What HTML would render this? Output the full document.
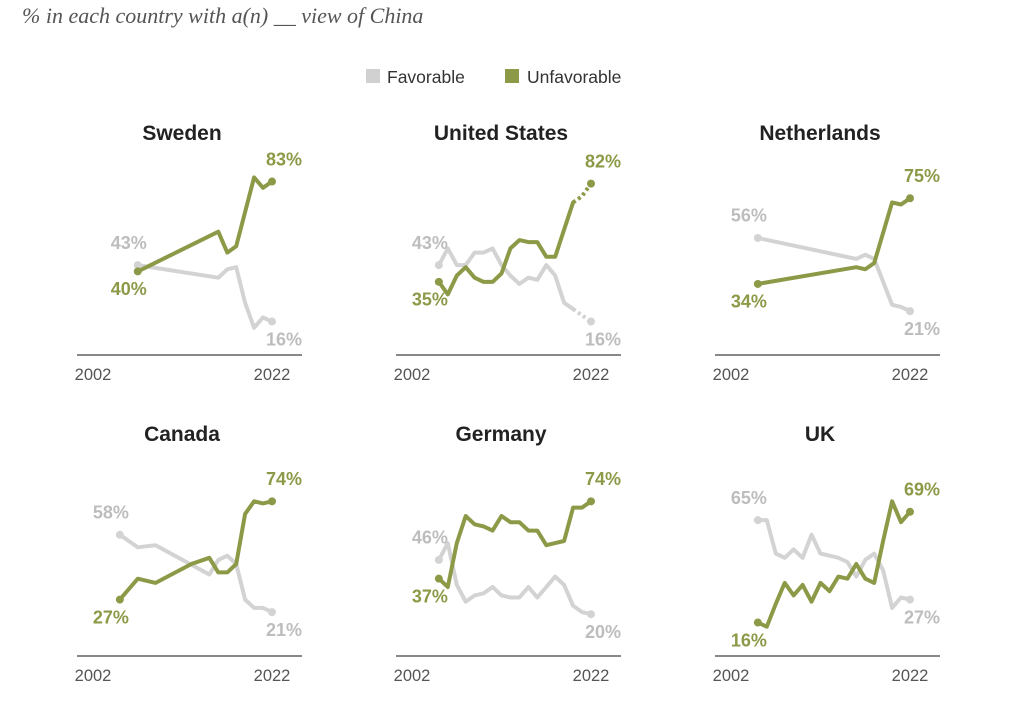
<!DOCTYPE html>
<html><head><meta charset="utf-8">
<style>
body{margin:0;background:#fff;width:1018px;height:711px;overflow:hidden;font-family:"Liberation Sans",sans-serif}
svg{display:block}
</style></head>
<body>
<svg id="chart" width="1018" height="711">
<text x="22" y="23" font-family="Liberation Serif" font-style="italic" font-size="22" fill="#555">% in each country with a(n) __ view of China</text>
<g>
<rect x="366" y="69" width="14" height="14" fill="#d1d1d1"/>
<text x="387" y="83" font-size="17.5" fill="#333">Favorable</text>
<rect x="505" y="69" width="14" height="14" fill="#8c9a48"/>
<text x="527" y="83" font-size="17.5" fill="#333">Unfavorable</text>
</g>
</svg>
<script>
const countries=["Sweden","United States","Netherlands","Canada","Germany","UK"];
const tickLabels=["2002","2022"];
const swedenFavYears=[2007,2016,2017,2018,2019,2020,2021,2022];
const swedenFav=[43,37,41,42,25,13,18,16];
const swedenUnfYears=[2007,2016,2017,2018,2020,2021,2022];
const swedenUnf=[40,59,49,52,85,80,83];
const usYears=[2005,2006,2007,2008,2009,2010,2011,2012,2013,2014,2015,2016,2017,2018,2019,2020];
const usFav=[43,51,43,43,49,49,51,43,38,34,37,36,43,38,25,22];
const usUnf=[35,29,38,42,37,35,35,39,51,55,54,54,47,47,60,73];
const usDotYears=[2020,2021,2022];
const usFavDot=[22,19,16];
const usUnfDot=[73,76,82];
const nlYears=[2005,2016,2017,2018,2020,2021,2022];
const nlFav=[56,46,48,46,24,23,21];
const nlUnf=[34,42,41,44,73,72,75];
const caFavYears=[2005,2007,2009,2015,2016,2017,2018,2019,2020,2021,2022];
const caFav=[58,52,53,39,46,48,44,27,23,23,21];
const caUnfYears=[2005,2007,2009,2013,2015,2016,2017,2018,2019,2020,2021,2022];
const caUnf=[27,37,35,44,47,40,40,44,68,74,73,74];
const deYears=[2005,2006,2007,2008,2009,2010,2011,2012,2013,2014,2015,2016,2017,2018,2019,2020,2021,2022];
const deFav=[46,54,34,26,29,30,33,29,28,28,33,28,33,38,34,24,21,20];
const deUnf=[37,33,54,67,63,62,60,67,64,64,60,60,53,54,55,71,71,74];
const ukYears=[2005,2006,2007,2008,2009,2010,2011,2012,2013,2014,2015,2016,2017,2018,2019,2020,2021,2022];
const ukFav=[65,65,49,47,51,47,58,49,48,47,45,38,46,49,41,23,28,27];
const ukUnf=[16,14,25,35,29,34,26,35,31,38,37,44,37,35,55,74,64,69];

const panels=[
 {name:"sweden",x0:93,base:355,fy:swedenFavYears,fv:swedenFav,uy:swedenUnfYears,uv:swedenUnf},
 {name:"united-states",x0:412,base:355,fy:usYears,fv:usFav,uy:usYears,uv:usUnf,dot:true},
 {name:"netherlands",x0:731,base:355,fy:nlYears,fv:nlFav,uy:nlYears,uv:nlUnf},
 {name:"canada",x0:93,base:656,fy:caFavYears,fv:caFav,uy:caUnfYears,uv:caUnf},
 {name:"germany",x0:412,base:656,fy:deYears,fv:deFav,uy:deYears,uv:deUnf},
 {name:"uk",x0:731,base:656,fy:ukYears,fv:ukFav,uy:ukYears,uv:ukUnf}
];
const NS="http://www.w3.org/2000/svg";
const svg=document.getElementById('chart');
const GREEN="#8c9a48",GRAY="#d3d3d3",LGRAY="#bdbdbd";
function mk(t,a,p){const e=document.createElementNS(NS,t);for(const k in a)e.setAttribute(k,a[k]);(p||svg).appendChild(e);return e;}
panels.forEach((p,i)=>{
 const xs=y=>p.x0+(y-2002)*8.95;
 const ys=v=>p.base-v*2.09;
 const g=mk('g',{});
 
 
 const t=mk('text',{x:p.x0+89,y:p.base-215,'text-anchor':'middle','font-size':'21','font-weight':'bold',fill:'#222'},g);
 t.textContent=countries[i];
 
 
 const ax=mk('line',{x1:p.x0-16,x2:p.x0+209,y1:p.base,y2:p.base,stroke:'#888','stroke-width':2},g);
 
 
 [2002,2022].forEach((yr,k)=>{
  const tl=mk('text',{x:p.x0+k*179,y:p.base+25,'text-anchor':'middle','font-size':'16.5',fill:'#555'},g);
  tl.textContent=tickLabels[k];
  
  
 });
 function line(yrs,vals,col,nm,dash){
  const d=yrs.map((y,k)=>(k?'L':'M')+xs(y).toFixed(1)+','+ys(vals[k]).toFixed(1)).join(' ');
  const a={d:d,fill:'none',stroke:col,'stroke-width':4,'stroke-linejoin':'round','stroke-linecap':dash?'butt':'round'};
  if(dash)a['stroke-dasharray']='3,3';
  const e=mk('path',a,g);
  
  
 }
 function ends(yrs,vals,col,lc,nm,firstUp,lastUp){
  const n=yrs.length-1;
  [[0,firstUp,-9],[n,lastUp,12]].forEach(([k,up,dx])=>{
   const c=mk('circle',{cx:xs(yrs[k]),cy:ys(vals[k]),r:4,fill:col},g);
   
   
   const l=mk('text',{x:xs(yrs[k])+dx,y:ys(vals[k])+(up?-21:19),'text-anchor':'middle','dominant-baseline':'middle','font-size':'18','font-weight':'bold',fill:lc},g);
   l.textContent=vals[k]+'%';
   
   
  });
 }
 line(p.fy,p.fv,GRAY,p.name+'-favorable-line');
 line(p.uy,p.uv,GREEN,p.name+'-unfavorable-line');
 if(p.dot){
  line(usDotYears,usFavDot,GRAY,p.name+'-favorable-dotted',true);
  line(usDotYears,usUnfDot,GREEN,p.name+'-unfavorable-dotted',true);
  const fy=[p.fy[0]].concat(usDotYears.slice(-1)),fv=[p.fv[0]].concat(usFavDot.slice(-1));
  const uy=[p.uy[0]].concat(usDotYears.slice(-1)),uv=[p.uv[0]].concat(usUnfDot.slice(-1));
  ends(fy,fv,GRAY,LGRAY,p.name+'-favorable',true,false);
  ends(uy,uv,GREEN,GREEN,p.name+'-unfavorable',false,true);
 } else {
  ends(p.fy,p.fv,GRAY,LGRAY,p.name+'-favorable',true,false);
  ends(p.uy,p.uv,GREEN,GREEN,p.name+'-unfavorable',false,true);
 }
});
</script>
</body></html>
